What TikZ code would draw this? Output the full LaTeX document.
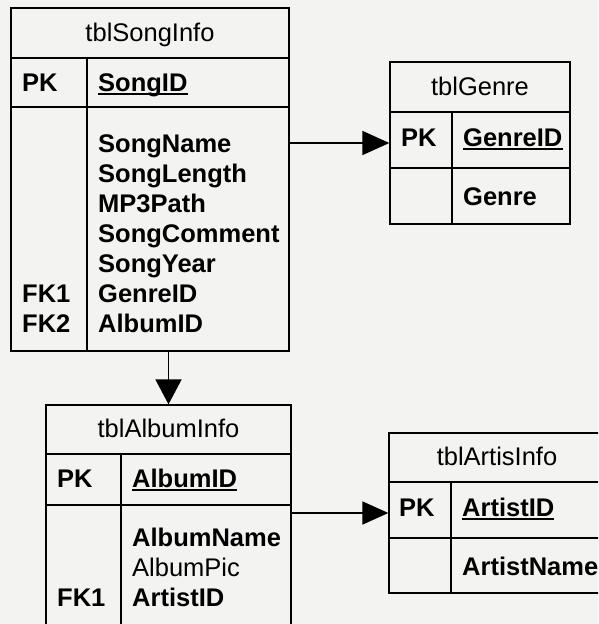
\documentclass[tikz,border=0pt]{standalone}
\usepackage{fontspec}
\setmainfont{Liberation Sans}
\usetikzlibrary{arrows.meta}
\definecolor{paper}{RGB}{243,243,241}
\tikzset{
  tbl/.style={draw, line width=1.3pt, inner sep=0pt, anchor=center},
  sep/.style={line width=1.3pt},
  txt/.style={inner sep=0pt, anchor=base west, font=\fontsize{25.5}{30}\selectfont\bfseries},
  ttl/.style={inner sep=0pt, anchor=base, font=\fontsize{25.5}{30}\selectfont},
  ul/.style={line width=1.2pt},
  rel/.style={line width=1.8pt, -{Triangle[length=27pt,width=24pt]}}
}
\begin{document}
\begin{tikzpicture}[x=1pt,y=-1pt]
\useasboundingbox (0,0) rectangle (598,624);
\clip (0,0) rectangle (598,624);
\fill[paper] (0,0) rectangle (598,624);

% tblSongInfo
\node[tbl, minimum width=278pt, minimum height=343pt] (song) at (150,179.5) {};
\draw[sep] (11,58) -- (289,58);
\draw[sep] (11,107) -- (289,107);
\draw[sep] (87,58) -- (87,351);
\node[ttl] (songT) at (150,41) {tblSongInfo};
\node[txt] (songPK) at (22,91) {PK};
\node[txt] (songID) at (98,91) {SongID};
\draw[ul] ([yshift=-3pt]songID.base west) -- ([yshift=-3pt]songID.base east);
\node[txt] (songF1) at (98,152) {SongName};
\node[txt] (songF2) at (98,182) {SongLength};
\node[txt] (songF3) at (98,212) {MP3Path};
\node[txt] (songF4) at (98,242) {SongComment};
\node[txt] (songF5) at (98,272) {SongYear};
\node[txt] (songF6) at (98,302) {GenreID};
\node[txt] (songF7) at (98,332) {AlbumID};
\node[txt] (songFK1) at (22,302) {FK1};
\node[txt] (songFK2) at (22,332) {FK2};

% tblGenre
\node[tbl, minimum width=180pt, minimum height=162pt] (genre) at (480,143) {};
\draw[sep] (390,112) -- (570,112);
\draw[sep] (390,168) -- (570,168);
\draw[sep] (452,112) -- (452,224);
\node[ttl] (genreT) at (480,95) {tblGenre};
\node[txt] (genrePK) at (401,146) {PK};
\node[txt] (genreID) at (463,146) {GenreID};
\draw[ul] ([yshift=-3pt]genreID.base west) -- ([yshift=-3pt]genreID.base east);
\node[txt] (genreF) at (463,205) {Genre};

% tblAlbumInfo
\node[tbl, minimum width=245pt, minimum height=245pt] (album) at (168.5,527.5) {};
\draw[sep] (46,454) -- (291,454);
\draw[sep] (46,505) -- (291,505);
\draw[sep] (121,454) -- (121,650);
\node[ttl] (albumT) at (168.5,437) {tblAlbumInfo};
\node[txt] (albumPK) at (57,487) {PK};
\node[txt] (albumID) at (132,487) {AlbumID};
\draw[ul] ([yshift=-3pt]albumID.base west) -- ([yshift=-3pt]albumID.base east);
\node[txt] (albumF1) at (132,546) {AlbumName};
\node[ttl, anchor=base west] (albumF2) at (132,576) {AlbumPic};
\node[txt] (albumF3) at (132,606) {ArtistID};
\node[txt] (albumFK1) at (57,606) {FK1};

% tblArtisInfo
\node[tbl, minimum width=216pt, minimum height=160pt] (artis) at (497,513) {};
\draw[sep] (389,482) -- (605,482);
\draw[sep] (389,538) -- (605,538);
\draw[sep] (451,482) -- (451,593);
\node[ttl] (artisT) at (497,465) {tblArtisInfo};
\node[txt] (artisPK) at (399,516) {PK};
\node[txt] (artisID) at (462,516) {ArtistID};
\draw[ul] ([yshift=-3pt]artisID.base west) -- ([yshift=-3pt]artisID.base east);
\node[txt] (artisF) at (462,575) {ArtistName};

% relationships
\draw[rel] (song.east |- genre.center) -- (genre.west);
\draw[rel, -{Triangle[length=25pt,width=26pt]}] (song.south -| album.north) -- (album.north);
\draw[rel, -{Triangle[length=26pt,width=23pt]}] (album.east |- artis.west) -- (artis.west);
\end{tikzpicture}
\end{document}
